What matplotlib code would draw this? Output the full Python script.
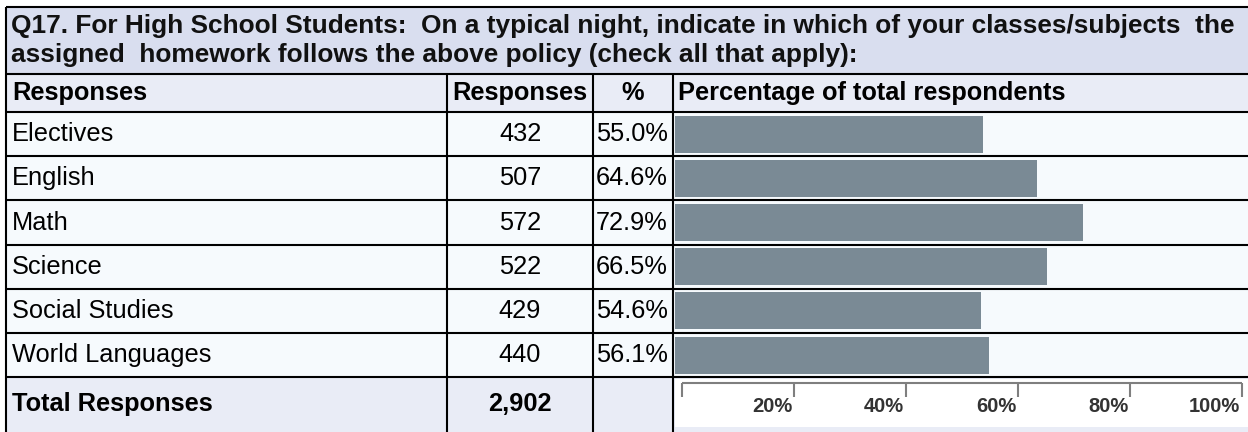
import matplotlib
matplotlib.use('Agg')
import matplotlib.pyplot as plt
from matplotlib.patches import Rectangle

plt.rcParams['font.family'] = ['Liberation Sans', 'DejaVu Sans']

TITLE_1 = 'Q17. For High School Students:  On a typical night, indicate in which of your classes/subjects  the'
TITLE_2 = 'assigned  homework follows the above policy (check all that apply):'
HEADERS = ['Responses', 'Responses', '%', 'Percentage of total respondents']
subjects = ['Electives', 'English', 'Math', 'Science', 'Social Studies', 'World Languages']
counts = [432, 507, 572, 522, 429, 440]
pcts = [55.0, 64.6, 72.9, 66.5, 54.6, 56.1]
total_label = 'Total Responses'
total_count = '2,902'
scale_ticks = [0, 20, 40, 60, 80, 100]

TITLE_BG, HEAD_BG, ROW_BG = '#d9deef', '#e9ecf6', '#f6fafd'
BAR_C, RULE_C = '#7a8a95', '#7f7f7f'

W, H = 1248, 432
fig = plt.figure(figsize=(W / 100, H / 100), dpi=100)
ax = fig.add_axes([0, 0, 1, 1])
ax.set_xlim(0, W); ax.set_ylim(H, 0); ax.axis('off')

# table grid, in pixels
L, TOP = 6, 7
X1, X2, X3 = 447, 593, 673
Y_HEAD, Y_ROWS, ROW_H = 74, 112, 44.2
Y_TOT = Y_ROWS + len(subjects) * ROW_H
BAR0, PX100 = 675, 560
LW = 1.5


def band(x0, y0, x1, y1, fc):
  ax.add_patch(Rectangle((x0, y0), x1 - x0, y1 - y0, facecolor=fc, edgecolor='none', zorder=0))


band(L, TOP, W, Y_HEAD, TITLE_BG)
band(L, Y_HEAD, W, Y_ROWS, HEAD_BG)
band(L, Y_ROWS, W, Y_TOT, ROW_BG)
band(L, Y_TOT, W, H, HEAD_BG)
band(BAR0, Y_TOT + 2, W, 427, 'white')

hl = [TOP, Y_HEAD, Y_ROWS] + [Y_ROWS + (i + 1) * ROW_H for i in range(len(subjects))]
ax.hlines(hl, L, W, color='black', lw=LW, zorder=3)
ax.vlines([L], TOP, H, color='black', lw=LW, zorder=3)
ax.vlines([X1, X2, X3], Y_HEAD, H, color='black', lw=LW, zorder=3)

# title (stretched to the full width like the original)
t1 = ax.text(11, 26, TITLE_1, fontsize=14, weight='bold', va='center', color='#111')
r = fig.canvas.get_renderer()
fs = 14 * 1225 / t1.get_window_extent(r).width
t1.set_fontsize(fs)
ax.text(11, 55, TITLE_2, fontsize=fs, weight='bold', va='center', color='#111')

# header row
FS = 18.3
yh = (Y_HEAD + Y_ROWS) / 2
ax.text(12, yh, HEADERS[0], fontsize=FS, weight='bold', va='center')
ax.text((X1 + X2) / 2, yh, HEADERS[1], fontsize=FS, weight='bold', va='center', ha='center')
ax.text((X2 + X3) / 2, yh, HEADERS[2], fontsize=FS, weight='bold', va='center', ha='center')
ax.text(X3 + 5, yh, HEADERS[3], fontsize=FS, weight='bold', va='center')

for i, (s, c, p) in enumerate(zip(subjects, counts, pcts)):
  yc = Y_ROWS + (i + 0.5) * ROW_H
  ax.text(12, yc, s, fontsize=FS, va='center')
  ax.text((X1 + X2) / 2, yc, str(c), fontsize=FS, va='center', ha='center')
  ax.text(X2 + 3, yc, f'{p:.1f}%', fontsize=FS, va='center', ha='left')

yt = (Y_TOT + 430) / 2
ax.text(12, yt, total_label, fontsize=FS, weight='bold', va='center')
ax.text((X1 + X2) / 2, yt, total_count, fontsize=FS, weight='bold', va='center', ha='center')

# bars
axb = fig.add_axes([BAR0 / W, (H - Y_TOT) / H, (W - BAR0) / W, (Y_TOT - Y_ROWS) / H])
axb.set_facecolor('none')
axb.barh(range(len(pcts)), pcts, height=0.84, color=BAR_C, zorder=2)
axb.set_xlim(0, (W - BAR0) / PX100 * 100)
axb.set_ylim(len(pcts) - 0.5, -0.5)
axb.axis('off')

# percentage ruler in the total row
axr = fig.add_axes([682 / W, (H - 427) / H, 560 / W, 48 / H])
axr.set_facecolor('none')
axr.set_xlim(0, 100); axr.set_ylim(48, 0)
axr.axis('off')
axr.hlines(4, 0, 100, color=RULE_C, lw=1.5, clip_on=False)
axr.vlines(scale_ticks, 4, 18, color=RULE_C, lw=1.5, clip_on=False)
for t in scale_ticks[1:]:
  axr.text(t - 0.3, 27, f'{t}%', ha='right', va='center', fontsize=14.5, weight='bold', color='#333')

fig.savefig('out.png', dpi=100, facecolor='white')
